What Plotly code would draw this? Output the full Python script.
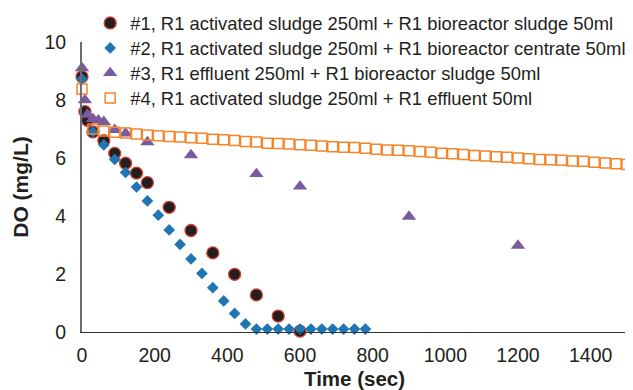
import plotly.graph_objects as go

# ---- data ----
names = [
    "#1, R1 activated sludge 250ml + R1 bioreactor sludge 50ml",
    "#2, R1 activated sludge 250ml + R1 bioreactor centrate 50ml",
    "#3, R1 effluent 250ml + R1 bioreactor sludge 50ml",
    "#4, R1 activated sludge 250ml + R1 effluent 50ml",
]

t1 = [0, 8, 15, 30, 60, 90, 120, 150, 180, 240, 300, 360, 420, 480, 540, 600]
do1 = [8.8, 7.6, 7.3, 6.9, 6.6, 6.16, 5.82, 5.48, 5.15, 4.3, 3.5, 2.73, 1.99, 1.28, 0.55, 0.03]

t2 = [0, 30, 60, 90, 120, 150, 180, 210, 240, 270, 300, 330, 360, 390, 420, 450,
      480, 510, 540, 570, 600, 630, 660, 690, 720, 750, 780]
do2 = [8.72, 6.9, 6.45, 5.95, 5.5, 5.0, 4.52, 4.03, 3.52, 3.02, 2.52, 2.02, 1.53, 1.07, 0.64, 0.28,
       0.1, 0.1, 0.1, 0.1, 0.1, 0.1, 0.1, 0.1, 0.1, 0.1, 0.1]

t3 = [0, 8, 15, 30, 45, 60, 90, 120, 180, 300, 480, 600, 900, 1200]
do3 = [9.1, 8.0, 7.5, 7.35, 7.3, 7.25, 6.97, 6.85, 6.55, 6.1, 5.45, 5.02, 3.98, 2.98]

t4 = [0, 30, 60, 90, 120, 150, 180, 210, 240, 270, 300, 330, 360, 390, 420, 450, 480,
      510, 540, 570, 600, 630, 660, 690, 720, 750, 780, 810, 840, 870, 900, 930, 960,
      990, 1020, 1050, 1080, 1110, 1140, 1170, 1200, 1230, 1260, 1290, 1320, 1350,
      1380, 1410, 1440, 1470, 1500]
do4 = [8.38, 7.0, 6.93, 6.89, 6.86, 6.83, 6.79, 6.77, 6.74, 6.72, 6.70, 6.68, 6.65, 6.63,
       6.60, 6.57, 6.55, 6.51, 6.50, 6.48, 6.46, 6.44, 6.41, 6.39, 6.37, 6.36, 6.34, 6.30,
       6.28, 6.27, 6.25, 6.22, 6.20, 6.16, 6.15, 6.12, 6.09, 6.07, 6.04, 6.03, 6.00, 5.97,
       5.95, 5.94, 5.92, 5.90, 5.89, 5.85, 5.83, 5.80, 5.78]

x_ticks = [0, 200, 400, 600, 800, 1000, 1200, 1400]
y_ticks = [0, 2, 4, 6, 8, 10]

FONT = "Arial, Liberation Sans, Helvetica, sans-serif"
TXT = "#231f20"

fig = go.Figure()
fig.add_trace(go.Scatter(
    x=t1, y=do1, mode="markers", name=names[0], cliponaxis=False, legend="legend",
    marker=dict(symbol="circle", size=12, color="#231f20",
                line=dict(color="#d2402f", width=1.3))))
fig.add_trace(go.Scatter(
    x=t2, y=do2, mode="markers", name=names[1], cliponaxis=False, legend="legend2",
    marker=dict(symbol="diamond", size=9, color="#1f76b3", line=dict(width=0))))
fig.add_trace(go.Scatter(
    x=t3, y=do3, mode="markers", name=names[2], cliponaxis=False, legend="legend3",
    marker=dict(symbol="triangle-up", size=12.5, color="#7a5c9e", line=dict(width=0))))
fig.add_trace(go.Scatter(
    x=t4, y=do4, mode="markers", name=names[3], cliponaxis=False, legend="legend4",
    marker=dict(symbol="square-open", size=10, color="#f5842a",
                line=dict(color="#f5842a", width=1.5))))

# plot area in page pixels: x 82..627, y 42..332 (page body has an 8px margin)
def leg(top_px):
    return dict(
        x=0.015, y=(332 - top_px) / 290.0, xanchor="left", yanchor="middle",
        xref="paper", yref="paper",
        bgcolor="rgba(0,0,0,0)", borderwidth=0,
        font=dict(family=FONT, size=18.4, color=TXT),
        itemsizing="trace",
    )

fig.update_layout(
    width=625, height=382,
    margin=dict(l=74, r=6, t=34, b=58, autoexpand=False),
    paper_bgcolor="white", plot_bgcolor="white",
    font=dict(family=FONT, color=TXT),
    showlegend=True,
    legend=leg(23), legend2=leg(48), legend3=leg(73), legend4=leg(98),
    xaxis=dict(
        range=[0, 1500], tickvals=x_ticks, showgrid=False, zeroline=False,
        showline=True, linecolor="#333333", linewidth=1, ticks="",
        tickfont=dict(family=FONT, size=19.5, color=TXT), ticklabelstandoff=6,
        title=dict(text="<b>Time (sec)</b>", font=dict(family=FONT, size=20.5, color=TXT),
                   standoff=9),
    ),
    yaxis=dict(
        range=[0, 10], tickvals=y_ticks, showgrid=False, zeroline=False,
        showline=True, linecolor="#6d6e71", linewidth=2, ticks="",
        tickfont=dict(family=FONT, size=19.5, color=TXT), ticklabelstandoff=10,
        title=dict(text="<b>DO (mg/L)</b>", font=dict(family=FONT, size=21, color=TXT),
                   standoff=10),
    ),
)

fig.write_html("out.html")
